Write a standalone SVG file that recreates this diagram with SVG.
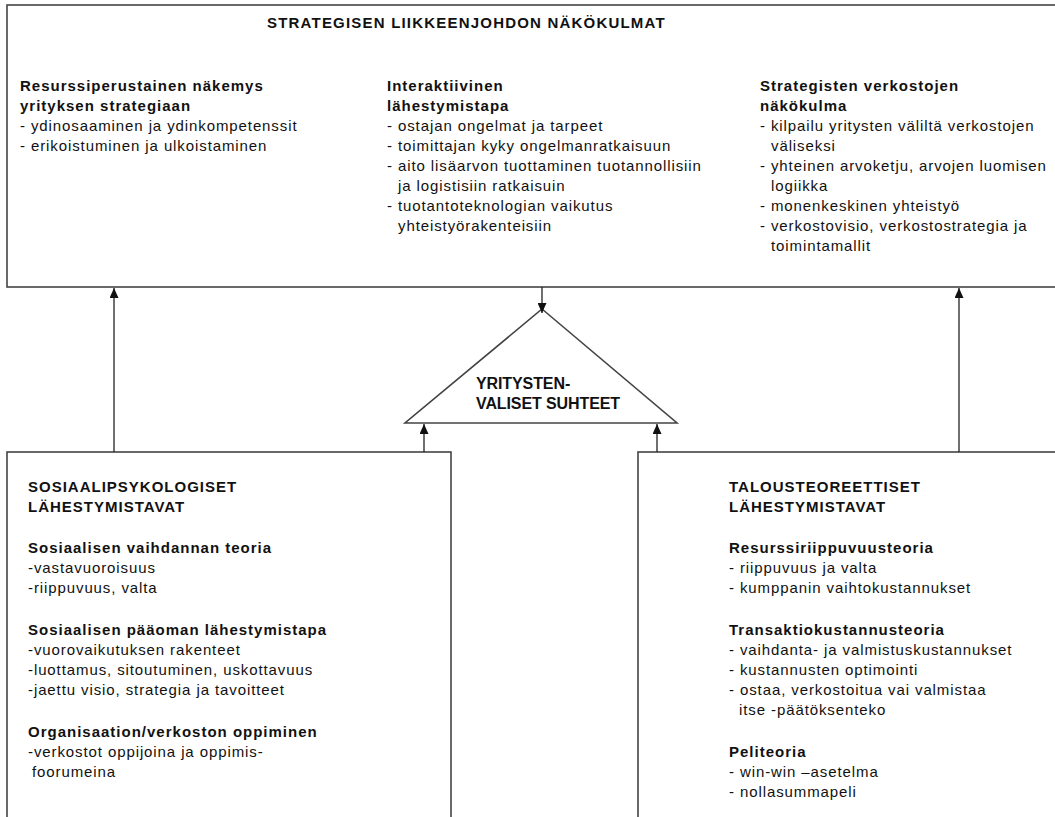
<svg xmlns="http://www.w3.org/2000/svg" width="1055" height="817" viewBox="0 0 1055 817">
  <style>
    .box { fill: #ffffff; stroke: #444; stroke-width: 1.6; }
    .link { fill: none; stroke: #222; stroke-width: 1.3; }
    text { font-family: "Liberation Sans", Arial, sans-serif; font-size: 15px; fill: #111; letter-spacing: 0.9px; }
    .b { font-weight: bold; letter-spacing: 1px; }
    .title { font-weight: bold; letter-spacing: 1.2px; }
    .tri { font-weight: bold; font-size: 16px; letter-spacing: -0.1px; }
  </style>
  <defs>
    <marker id="arrow" viewBox="0 0 10 9" refX="10" refY="4.5" markerWidth="10" markerHeight="9" markerUnits="userSpaceOnUse" orient="auto">
      <path d="M0,0 L10,4.5 L0,9 z" fill="#111"/>
    </marker>
  </defs>

  <rect width="1055" height="817" fill="#ffffff"/>

  <!-- Strategic management perspectives (top) -->
  <g id="strategiset-nakokulmat">
    <rect class="box" x="7" y="5" width="1060" height="282"/>
    <text class="title" x="267" y="28">STRATEGISEN LIIKKEENJOHDON NÄKÖKULMAT</text>

    <text class="b" x="20" y="91">Resurssiperustainen näkemys</text>
    <text class="b" x="20" y="111">yrityksen strategiaan</text>
    <text x="20" y="131">- ydinosaaminen ja ydinkompetenssit</text>
    <text x="20" y="151">- erikoistuminen ja ulkoistaminen</text>

    <text class="b" x="387" y="91">Interaktiivinen</text>
    <text class="b" x="387" y="111">lähestymistapa</text>
    <text x="387" y="131">- ostajan ongelmat ja tarpeet</text>
    <text x="387" y="151">- toimittajan kyky ongelmanratkaisuun</text>
    <text x="387" y="171">- aito lisäarvon tuottaminen tuotannollisiin</text>
    <text x="398" y="191">ja logistisiin ratkaisuin</text>
    <text x="387" y="211">- tuotantoteknologian vaikutus</text>
    <text x="398" y="231">yhteistyörakenteisiin</text>

    <text class="b" x="760" y="91">Strategisten verkostojen</text>
    <text class="b" x="760" y="111">näkökulma</text>
    <text x="760" y="131">- kilpailu yritysten väliltä verkostojen</text>
    <text x="771" y="151">väliseksi</text>
    <text x="760" y="171">- yhteinen arvoketju, arvojen luomisen</text>
    <text x="771" y="191">logiikka</text>
    <text x="760" y="211">- monenkeskinen yhteistyö</text>
    <text x="760" y="231">- verkostovisio, verkostostrategia ja</text>
    <text x="771" y="251">toimintamallit</text>
  </g>

  <!-- Inter-firm relationships (centre triangle) -->
  <g id="yritystenvaliset-suhteet">
    <polygon class="box" points="542,309 677,423 405,423"/>
    <text class="tri" x="476" y="389">YRITYSTEN-</text>
    <text class="tri" x="476" y="409">VALISET SUHTEET</text>
  </g>

  <!-- Social-psychological approaches (bottom left) -->
  <g id="sosiaalipsykologiset">
    <rect class="box" x="7" y="452" width="444" height="400"/>
    <text class="b" x="28" y="492">SOSIAALIPSYKOLOGISET</text>
    <text class="b" x="28" y="512">LÄHESTYMISTAVAT</text>

    <text class="b" x="28" y="553">Sosiaalisen vaihdannan teoria</text>
    <text x="28" y="573">-vastavuoroisuus</text>
    <text x="28" y="593">-riippuvuus, valta</text>

    <text class="b" x="28" y="635">Sosiaalisen pääoman lähestymistapa</text>
    <text x="28" y="655">-vuorovaikutuksen rakenteet</text>
    <text x="28" y="675">-luottamus, sitoutuminen, uskottavuus</text>
    <text x="28" y="695">-jaettu visio, strategia ja tavoitteet</text>

    <text class="b" x="28" y="737">Organisaation/verkoston oppiminen</text>
    <text x="28" y="757">-verkostot oppijoina ja oppimis-</text>
    <text x="32" y="777">foorumeina</text>
  </g>

  <!-- Economic-theory approaches (bottom right) -->
  <g id="talousteoreettiset">
    <rect class="box" x="638" y="452" width="430" height="400"/>
    <text class="b" x="729" y="492">TALOUSTEOREETTISET</text>
    <text class="b" x="729" y="512">LÄHESTYMISTAVAT</text>

    <text class="b" x="729" y="553">Resurssiriippuvuusteoria</text>
    <text x="729" y="573">- riippuvuus ja valta</text>
    <text x="729" y="593">- kumppanin vaihtokustannukset</text>

    <text class="b" x="729" y="635">Transaktiokustannusteoria</text>
    <text x="729" y="655">- vaihdanta- ja valmistuskustannukset</text>
    <text x="729" y="675">- kustannusten optimointi</text>
    <text x="729" y="695">- ostaa, verkostoitua vai valmistaa</text>
    <text x="739" y="715">itse -päätöksenteko</text>

    <text class="b" x="729" y="757">Peliteoria</text>
    <text x="729" y="777">- win-win –asetelma</text>
    <text x="729" y="797">- nollasummapeli</text>
  </g>

  <!-- Connectors -->
  <g id="connectors">
    <line class="link" x1="114" y1="452" x2="114" y2="288" marker-end="url(#arrow)"/>
    <line class="link" x1="959" y1="452" x2="959" y2="288" marker-end="url(#arrow)"/>
    <line class="link" x1="542" y1="287" x2="542" y2="313" marker-end="url(#arrow)"/>
    <line class="link" x1="424" y1="452" x2="424" y2="424" marker-end="url(#arrow)"/>
    <line class="link" x1="657" y1="452" x2="657" y2="424" marker-end="url(#arrow)"/>
  </g>
</svg>
